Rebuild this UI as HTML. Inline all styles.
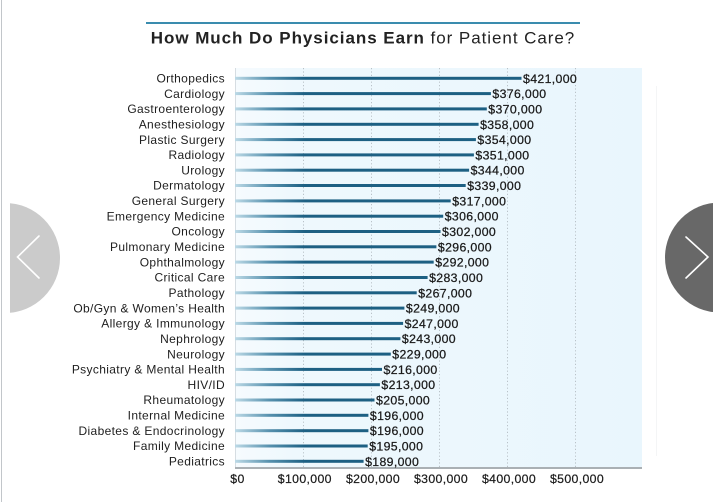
<!DOCTYPE html>
<html>
<head>
<meta charset="utf-8">
<style>
  html,body{margin:0;padding:0;background:#fff;}
  body{width:728px;height:502px;overflow:hidden;}
  svg{display:block;}
  text{font-family:"Liberation Sans",Arial,sans-serif;fill:#222;}
  .cat{font-size:12px;letter-spacing:0.35px;text-anchor:end;fill:#1e1e1e;}
  .val{font-size:12.3px;letter-spacing:0.35px;fill:#1a1a1a;stroke:#1a1a1a;stroke-width:0.25px;}
  .ax{font-size:12.3px;letter-spacing:0.35px;text-anchor:middle;fill:#1a1a1a;stroke:#1a1a1a;stroke-width:0.2px;}
</style>
</head>
<body>
<svg width="728" height="502" viewBox="0 0 728 502" xmlns="http://www.w3.org/2000/svg">
  <defs>
    <linearGradient id="bg" x1="0" y1="0" x2="1" y2="0">
      <stop offset="0" stop-color="#f6fbfe"/>
      <stop offset="0.15" stop-color="#eef8fd"/>
      <stop offset="1" stop-color="#e9f6fd"/>
    </linearGradient>
    <linearGradient id="bar" gradientUnits="userSpaceOnUse" x1="235" y1="0" x2="305" y2="0">
      <stop offset="0" stop-color="#bcd9e6"/>
      <stop offset="0.5" stop-color="#5590ad"/>
      <stop offset="1" stop-color="#1d6083"/>
    </linearGradient>
    <clipPath id="clipL"><rect x="10" y="0" width="100" height="502"/></clipPath>
    <clipPath id="clipR"><rect x="600" y="0" width="113" height="502"/></clipPath>
  </defs>

  <!-- left border -->
  <rect x="1" y="0" width="1" height="502" fill="#c2c6ca"/>

  <!-- title -->
  <rect x="146" y="22" width="434" height="2" fill="#3a8cae"/>
  <text x="363" y="43.5" text-anchor="middle" style="font-size:17px;letter-spacing:0.95px;fill:#222"><tspan font-weight="bold">How Much Do Physicians Earn</tspan> for Patient Care?</text>

  <!-- plot background -->
  <rect x="235" y="68" width="407" height="400" fill="url(#bg)"/>
  <rect x="235" y="68" width="1" height="400" fill="#d6dde2"/>
  <!-- faint right line -->
  <rect x="656" y="86" width="1" height="370" fill="#f4f5f6"/>

  <!-- gridlines -->
  <g stroke="#b9c2c8" stroke-width="1" stroke-dasharray="1.2,2.2">
    <line x1="303.5" y1="68" x2="303.5" y2="467"/>
    <line x1="371.5" y1="68" x2="371.5" y2="467"/>
    <line x1="439.5" y1="68" x2="439.5" y2="467"/>
    <line x1="507.5" y1="68" x2="507.5" y2="467"/>
    <line x1="575.5" y1="68" x2="575.5" y2="467"/>
  </g>

  <!-- axis -->
  <rect x="235" y="467" width="407" height="2" fill="#aab0b4"/>

  <!-- bars -->
  <g fill="url(#bar)">
    <rect x="235" y="76.8" width="286.5" height="3"/>
    <rect x="235" y="92.1" width="255.9" height="3"/>
    <rect x="235" y="107.4" width="251.8" height="3"/>
    <rect x="235" y="122.8" width="243.6" height="3"/>
    <rect x="235" y="138.1" width="240.9" height="3"/>
    <rect x="235" y="153.4" width="238.9" height="3"/>
    <rect x="235" y="168.7" width="234.1" height="3"/>
    <rect x="235" y="184" width="230.7" height="3"/>
    <rect x="235" y="199.4" width="215.7" height="3"/>
    <rect x="235" y="214.7" width="208.2" height="3"/>
    <rect x="235" y="230" width="205.5" height="3"/>
    <rect x="235" y="245.3" width="201.4" height="3"/>
    <rect x="235" y="260.6" width="198.7" height="3"/>
    <rect x="235" y="276" width="192.6" height="3"/>
    <rect x="235" y="291.3" width="181.7" height="3"/>
    <rect x="235" y="306.6" width="169.4" height="3"/>
    <rect x="235" y="321.9" width="168.1" height="3"/>
    <rect x="235" y="337.2" width="165.4" height="3"/>
    <rect x="235" y="352.6" width="155.8" height="3"/>
    <rect x="235" y="367.9" width="147" height="3"/>
    <rect x="235" y="383.2" width="144.9" height="3"/>
    <rect x="235" y="398.5" width="139.5" height="3"/>
    <rect x="235" y="413.8" width="133.4" height="3"/>
    <rect x="235" y="429.2" width="133.4" height="3"/>
    <rect x="235" y="444.5" width="132.7" height="3"/>
    <rect x="235" y="459.8" width="128.6" height="3"/>
  </g>

  <!-- category labels -->
  <g>
    <text class="cat" x="225" y="82.5">Orthopedics</text>
    <text class="cat" x="225" y="97.8">Cardiology</text>
    <text class="cat" x="225" y="113.1">Gastroenterology</text>
    <text class="cat" x="225" y="128.5">Anesthesiology</text>
    <text class="cat" x="225" y="143.8">Plastic Surgery</text>
    <text class="cat" x="225" y="159.1">Radiology</text>
    <text class="cat" x="225" y="174.4">Urology</text>
    <text class="cat" x="225" y="189.7">Dermatology</text>
    <text class="cat" x="225" y="205.1">General Surgery</text>
    <text class="cat" x="225" y="220.4">Emergency Medicine</text>
    <text class="cat" x="225" y="235.7">Oncology</text>
    <text class="cat" x="225" y="251">Pulmonary Medicine</text>
    <text class="cat" x="225" y="266.3">Ophthalmology</text>
    <text class="cat" x="225" y="281.7">Critical Care</text>
    <text class="cat" x="225" y="297">Pathology</text>
    <text class="cat" x="225" y="312.3">Ob/Gyn &amp; Women’s Health</text>
    <text class="cat" x="225" y="327.6">Allergy &amp; Immunology</text>
    <text class="cat" x="225" y="342.9">Nephrology</text>
    <text class="cat" x="225" y="358.3">Neurology</text>
    <text class="cat" x="225" y="373.6">Psychiatry &amp; Mental Health</text>
    <text class="cat" x="225" y="388.9">HIV/ID</text>
    <text class="cat" x="225" y="404.2">Rheumatology</text>
    <text class="cat" x="225" y="419.5">Internal Medicine</text>
    <text class="cat" x="225" y="434.9">Diabetes &amp; Endocrinology</text>
    <text class="cat" x="225" y="450.2">Family Medicine</text>
    <text class="cat" x="225" y="465.5">Pediatrics</text>
  </g>

  <!-- value labels -->
  <g>
    <text class="val" x="523" y="82.8">$421,000</text>
    <text class="val" x="492.4" y="98.1">$376,000</text>
    <text class="val" x="488.3" y="113.4">$370,000</text>
    <text class="val" x="480.1" y="128.8">$358,000</text>
    <text class="val" x="477.4" y="144.1">$354,000</text>
    <text class="val" x="475.4" y="159.4">$351,000</text>
    <text class="val" x="470.6" y="174.7">$344,000</text>
    <text class="val" x="467.2" y="190">$339,000</text>
    <text class="val" x="452.2" y="205.4">$317,000</text>
    <text class="val" x="444.7" y="220.7">$306,000</text>
    <text class="val" x="442" y="236">$302,000</text>
    <text class="val" x="437.9" y="251.3">$296,000</text>
    <text class="val" x="435.2" y="266.6">$292,000</text>
    <text class="val" x="429.1" y="282">$283,000</text>
    <text class="val" x="418.2" y="297.3">$267,000</text>
    <text class="val" x="405.9" y="312.6">$249,000</text>
    <text class="val" x="404.6" y="327.9">$247,000</text>
    <text class="val" x="401.9" y="343.2">$243,000</text>
    <text class="val" x="392.3" y="358.6">$229,000</text>
    <text class="val" x="383.5" y="373.9">$216,000</text>
    <text class="val" x="381.4" y="389.2">$213,000</text>
    <text class="val" x="376" y="404.5">$205,000</text>
    <text class="val" x="369.9" y="419.8">$196,000</text>
    <text class="val" x="369.9" y="435.2">$196,000</text>
    <text class="val" x="369.2" y="450.5">$195,000</text>
    <text class="val" x="365.1" y="465.8">$189,000</text>
  </g>

  <!-- axis labels -->
  <g>
    <text class="ax" x="237.5" y="483">$0</text>
    <text class="ax" x="304.8" y="483">$100,000</text>
    <text class="ax" x="373" y="483">$200,000</text>
    <text class="ax" x="441" y="483">$300,000</text>
    <text class="ax" x="509" y="483">$400,000</text>
    <text class="ax" x="577" y="483">$500,000</text>
  </g>

  <!-- left nav button -->
  <g clip-path="url(#clipL)">
    <circle cx="5" cy="258" r="55" fill="#cbcbcb"/>
  </g>
  <polyline points="39,236 17.5,257 39,278" fill="none" stroke="#fff" stroke-width="1.6" stroke-linecap="round" stroke-linejoin="miter"/>

  <!-- right nav button -->
  <g clip-path="url(#clipR)">
    <circle cx="720" cy="257.5" r="55" fill="#686868"/>
  </g>
  <polyline points="686,237 708,257 686,278" fill="none" stroke="#fff" stroke-width="1.6" stroke-linecap="round" stroke-linejoin="miter"/>
</svg>
</body>
</html>
